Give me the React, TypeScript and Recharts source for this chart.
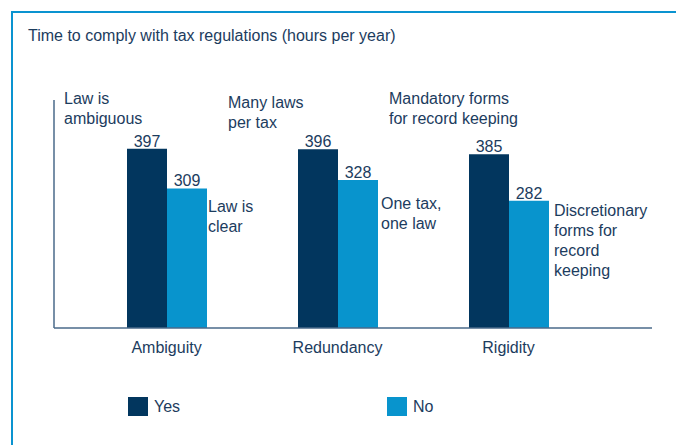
import React from "react";
import { Bar, BarChart, LabelList, XAxis, YAxis } from "recharts";

const categories = ["Ambiguity", "Redundancy", "Rigidity"];
const yesValues = [397, 396, 385];
const noValues = [309, 328, 282];

const title = "Time to comply with tax regulations (hours per year)";

const yesNotes = [["Law is", "ambiguous"], ["Many laws", "per tax"], ["Mandatory forms", "for record keeping"]];
const noNotes = [["Law is", "clear"], ["One tax,", "one law"], ["Discretionary", "forms for", "record", "keeping"]];

const data = categories.map((name, i) => ({ name, yes: yesValues[i], no: noValues[i] }));

const FONT = '"Liberation Sans", Arial, Helvetica, sans-serif';
const TEXT = "#1c3c5e";
const YES = "#02365e";
const NO = "#0894cd";
const FRAME = "#0a93d0";
const AXIS = "#4a6a8a";

// where the free text notes sit (left, top of first line)
const yesNotePos = [
  [64, 89],
  [228, 93],
  [389, 89],
];
const noNotePos = [
  [208, 197],
  [381, 194],
  [554, 201],
];

function Note({ lines, x, y }: { lines: string[]; x: number; y: number }) {
  return (
    <div style={{ position: "absolute", left: x, top: y, lineHeight: "20px", fontSize: 16, color: TEXT, whiteSpace: "nowrap" }}>
      {lines.map((l) => (
        <div key={l}>{l}</div>
      ))}
    </div>
  );
}

export default function App() {
  return (
    <div style={{ position: "absolute", left: 0, top: 0, width: 676, height: 445, fontFamily: FONT, background: "#fff", overflow: "hidden" }}>
      <div
        style={{
          position: "absolute",
          left: 11,
          top: 11,
          right: -5,
          bottom: -5,
          borderTop: `2px solid ${FRAME}`,
          borderLeft: `2px solid ${FRAME}`,
        }}
      />
      <div style={{ position: "absolute", left: 28, top: 27, fontSize: 16, lineHeight: "18px", color: TEXT }}>{title}</div>

      <div style={{ position: "absolute", left: 0, top: 0 }}>
        <BarChart
          width={676}
          height={445}
          data={data}
          margin={{ top: 100, right: 24, bottom: 87, left: 44 }}
          barGap={0}
          barSize={40}
        >
          <XAxis
            dataKey="name"
            padding={{ left: 27, right: 58 }}
            axisLine={{ stroke: AXIS, strokeWidth: 1.5 }}
            tickLine={false}
            tickSize={0}
            tickMargin={14}
            height={30}
            tick={{ fill: TEXT, fontSize: 16, fontFamily: FONT }}
          />
          <YAxis
            width={10}
            domain={[0, 505]}
            ticks={[0]}
            tick={false}
            tickLine={false}
            axisLine={{ stroke: AXIS, strokeWidth: 1.5 }}
          />
          <Bar dataKey="yes" fill={YES} isAnimationActive={false}>
            <LabelList dataKey="yes" position="top" offset={2} fill={TEXT} fontSize={16} fontFamily={FONT} />
          </Bar>
          <Bar dataKey="no" fill={NO} isAnimationActive={false}>
            <LabelList dataKey="no" position="top" offset={2} fill={TEXT} fontSize={16} fontFamily={FONT} />
          </Bar>
        </BarChart>
      </div>

      {yesNotes.map((lines, i) => (
        <Note key={"y" + i} lines={lines} x={yesNotePos[i][0]} y={yesNotePos[i][1]} />
      ))}
      {noNotes.map((lines, i) => (
        <Note key={"n" + i} lines={lines} x={noNotePos[i][0]} y={noNotePos[i][1]} />
      ))}

      <div style={{ position: "absolute", left: 128, top: 397, display: "flex", alignItems: "center", fontSize: 16, color: TEXT }}>
        <span style={{ width: 20, height: 19, background: YES, marginRight: 6, display: "inline-block" }} />
        Yes
      </div>
      <div style={{ position: "absolute", left: 387, top: 397, display: "flex", alignItems: "center", fontSize: 16, color: TEXT }}>
        <span style={{ width: 20, height: 19, background: NO, marginRight: 6, display: "inline-block" }} />
        No
      </div>
    </div>
  );
}
